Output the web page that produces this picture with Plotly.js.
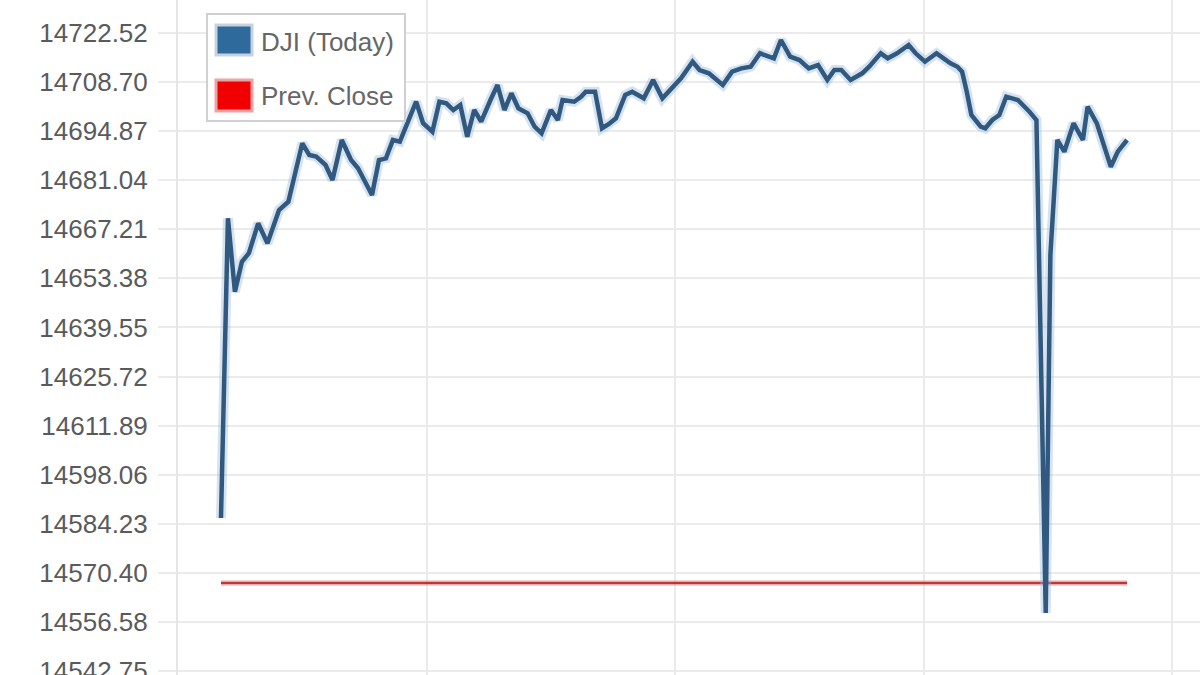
<!DOCTYPE html>
<html>
<head>
<meta charset="utf-8">
<script src="https://cdn.plot.ly/plotly-3.0.1.min.js"></script>
<style>
  html, body { margin: 0; padding: 0; background: #ffffff; }
  #chart { width: 1200px; height: 675px; }
</style>
</head>
<body>
<div id="chart"></div>
<script>
// Minutes since the open for each sample of today's DJI line
const minutes = [0, 3, 6, 9, 12, 16, 20, 25, 29, 35, 38, 41, 45, 48, 52, 56, 59, 65, 68, 71,
  74, 77, 84, 87, 91, 94, 97, 100, 103, 106, 109, 112, 116, 119, 122, 125, 128, 132, 135, 138,
  142, 145, 147, 152, 155, 157, 161, 164, 167, 170, 174, 177, 182, 186, 190, 194, 198, 203, 206, 210,
  216, 220, 224, 228, 232, 238, 241, 245, 249, 253, 257, 261, 264, 267, 271, 276, 279, 284, 287, 291,
  296, 299, 303, 308, 311, 314, 317, 319, 321, 323, 327, 329, 332, 335, 338, 343, 348, 351, 355, 357,
  360, 363, 367, 371, 373, 377, 383, 386, 390];

// DJI (Today) index values
const djiToday = [14585.86, 14670.31, 14649.63, 14658.08, 14660.45, 14668.90, 14663.26, 14672.65, 14674.99, 14691.44,
  14688.14, 14687.67, 14685.33, 14681.10, 14692.37, 14686.74, 14684.40, 14676.87, 14686.74, 14687.21,
  14692.37, 14691.89, 14703.16, 14697.08, 14694.71, 14703.16, 14702.71, 14700.82, 14702.23, 14693.30,
  14700.82, 14697.53, 14703.64, 14707.87, 14700.82, 14705.53, 14701.30, 14699.89, 14696.12, 14694.26,
  14700.82, 14698.01, 14703.64, 14703.16, 14704.57, 14705.98, 14705.98, 14695.67, 14696.88, 14698.49,
  14705.05, 14705.98, 14704.12, 14709.28, 14704.12, 14706.94, 14709.76, 14714.43, 14712.09, 14711.16,
  14707.87, 14711.62, 14712.57, 14713.02, 14716.80, 14715.39, 14720.55, 14715.84, 14714.91, 14712.57,
  14713.50, 14709.28, 14712.09, 14712.09, 14709.28, 14711.16, 14713.02, 14716.80, 14715.39, 14716.80,
  14719.14, 14716.80, 14714.43, 14716.80, 14715.39, 14713.98, 14713.02, 14711.62, 14705.98, 14699.41,
  14696.12, 14695.67, 14698.01, 14699.41, 14704.57, 14703.64, 14700.34, 14698.01, 14559.09, 14659.97,
  14692.37, 14689.07, 14697.08, 14692.37, 14701.75, 14697.08, 14684.85, 14689.07, 14692.37];

// Previous close level
const prevCloseTimes = [0, 390];
const prevCloseValues = [14567.55, 14567.55];

// Y-axis tick labels
const yTickVals = [14542.75, 14556.58, 14570.40, 14584.23, 14598.06, 14611.89, 14625.72,
  14639.55, 14653.38, 14667.21, 14681.04, 14694.87, 14708.70, 14722.52];
const yTickText = ["14542.75", "14556.58", "14570.40", "14584.23", "14598.06", "14611.89", "14625.72",
  "14639.55", "14653.38", "14667.21", "14681.04", "14694.87", "14708.70", "14722.52"];

// Legend entries
const seriesNames = ["DJI (Today)", "Prev. Close"];

const FONT = '"Liberation Sans", Arial, sans-serif';

const traces = [
  { x: prevCloseTimes, y: prevCloseValues, mode: 'lines', showlegend: false, hoverinfo: 'skip',
    line: { color: 'rgba(240,150,150,0.45)', width: 6 } },
  { x: prevCloseTimes, y: prevCloseValues, mode: 'lines', name: seriesNames[1], showlegend: false,
    line: { color: '#b8393c', width: 2.5 } },
  { x: minutes, y: djiToday, mode: 'lines', showlegend: false, hoverinfo: 'skip',
    line: { color: 'rgba(150,185,220,0.4)', width: 10, shape: 'linear' } },
  { x: minutes, y: djiToday, mode: 'lines', name: seriesNames[0], showlegend: false,
    line: { color: '#31597f', width: 4.5, shape: 'linear' } }
];

// Legend drawn as box + swatches + text (paper coordinates)
const W = 1022, H = 675, L = 178;
const px = v => (v - L) / W;
const py = v => 1 - v / H;

const shapes = [
  { type: 'rect', xref: 'paper', yref: 'paper', x0: px(207), x1: px(405), y0: py(121), y1: py(14),
    fillcolor: 'rgba(255,255,255,0.92)', line: { color: '#d0d0d0', width: 2 } },
  { type: 'rect', xref: 'paper', yref: 'paper', x0: px(216), x1: px(252), y0: py(55), y1: py(25),
    fillcolor: '#2f6a9c', line: { color: '#c5d3e0', width: 3 } },
  { type: 'rect', xref: 'paper', yref: 'paper', x0: px(216), x1: px(252), y0: py(111), y1: py(80),
    fillcolor: '#f00000', line: { color: '#eba3a3', width: 3 } }
];

const annotations = [
  { xref: 'paper', yref: 'paper', x: px(259), y: py(42), xanchor: 'left', yanchor: 'middle',
    text: seriesNames[0], showarrow: false, font: { family: FONT, size: 26, color: '#666666' } },
  { xref: 'paper', yref: 'paper', x: px(259), y: py(96), xanchor: 'left', yanchor: 'middle',
    text: seriesNames[1], showarrow: false, font: { family: FONT, size: 26, color: '#666666' } }
];

const layout = {
  width: 1200, height: 675,
  margin: { l: 178, r: 0, t: 0, b: 0, pad: 0 },
  paper_bgcolor: '#ffffff', plot_bgcolor: '#ffffff',
  showlegend: false,
  hovermode: false,
  font: { family: FONT, size: 26, color: '#5a5a5a' },
  xaxis: {
    range: [-18.5, 421.4],
    tickmode: 'linear', tick0: -18.5, dtick: 107,
    showgrid: true, gridcolor: '#ebebeb', gridwidth: 2,
    showticklabels: false, ticks: '', zeroline: false, showline: false
  },
  yaxis: {
    range: [14541.62, 14731.82],
    tickmode: 'array', tickvals: yTickVals, ticktext: yTickText,
    showgrid: true, gridcolor: '#ebebeb', gridwidth: 2,
    ticks: 'outside', ticklen: 18, tickwidth: 2, tickcolor: '#ebebeb',
    ticklabelstandoff: 5,
    ticklabeloverflow: 'allow',
    tickfont: { family: FONT, size: 26, color: '#5a5a5a' },
    zeroline: false, showline: true, linecolor: '#e6e6e6', linewidth: 2
  },
  shapes: shapes,
  annotations: annotations
};

Plotly.newPlot('chart', traces, layout, { displayModeBar: false, staticPlot: true });
</script>
</body>
</html>
